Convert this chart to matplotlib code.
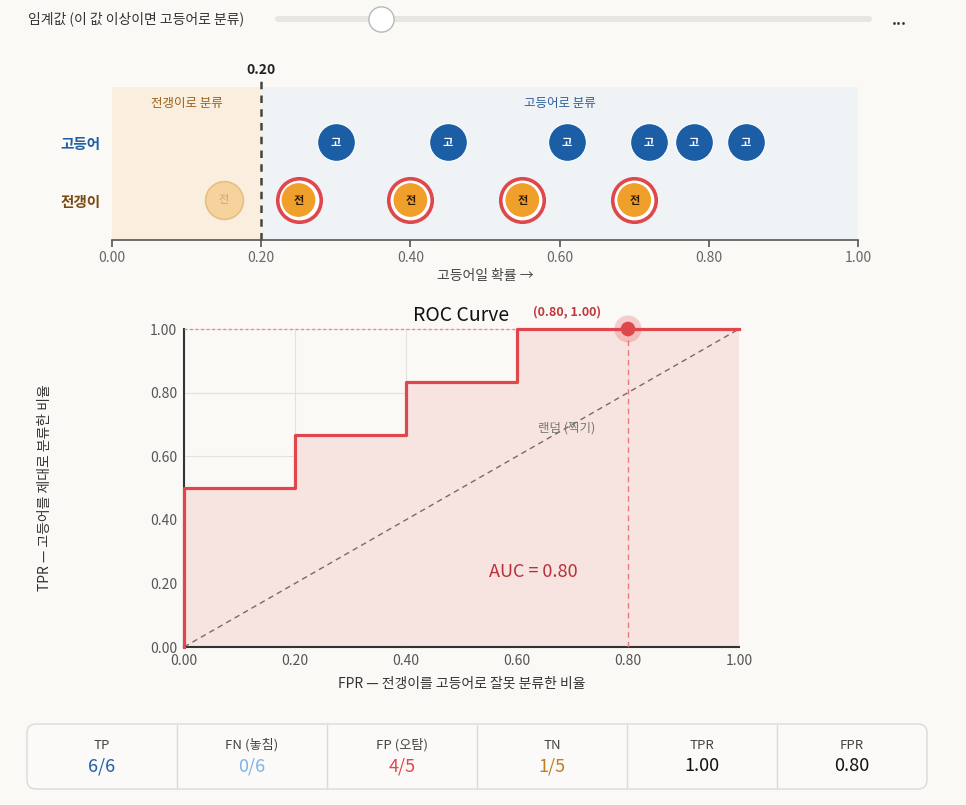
import numpy as np
import matplotlib
matplotlib.use("Agg")
import matplotlib.pyplot as plt
from matplotlib.patches import FancyBboxPatch, Rectangle

plt.rcParams['font.family'] = ['Noto Sans CJK KR', 'DejaVu Sans']

# data
mackerel = [0.30, 0.45, 0.61, 0.72, 0.78, 0.85]   # 고등어 (positive)
jack = [0.15, 0.25, 0.40, 0.55, 0.70]              # 전갱이 (negative)
threshold = 0.20
card_labels = ["TP", "FN (놓침)", "FP (오탐)", "TN", "TPR", "FPR"]
card_values = ["6/6", "0/6", "4/5", "1/5", "1.00", "0.80"]
card_colors = ["#1f5fa3", "#7fb3e8", "#e0474c", "#c17d1e", "#111111", "#111111"]

# ROC from scores
scores = np.array(mackerel + jack)
labels = np.array([1] * len(mackerel) + [0] * len(jack))
order = np.argsort(-scores)
tpr = [0.0]
fpr = [0.0]
tp = fp = 0
for i in order:
    if labels[i] == 1:
        tp += 1
    else:
        fp += 1
    tpr.append(tp / len(mackerel))
    fpr.append(fp / len(jack))
auc = np.trapezoid(tpr, fpr)
cur_tpr = np.mean(np.array(mackerel) >= threshold)
cur_fpr = np.mean(np.array(jack) >= threshold)

W, H = 966, 805
BG = "#faf9f6"
RED = "#e0474c"


def rect(l, t, r, b):
    return [l / W, 1 - b / H, (r - l) / W, (b - t) / H]


fig = plt.figure(figsize=(W / 100, H / 100), dpi=100, facecolor=BG)

# overlay in pixel coords
ov = fig.add_axes([0, 0, 1, 1])
ov.set_xlim(0, W)
ov.set_ylim(H, 0)
ov.axis("off")
ov.patch.set_alpha(0)

ov.text(28, 19, "임계값 (이 값 이상이면 고등어로 분류)", fontsize=10, color="#333333",
        ha="left", va="center")
ov.add_patch(FancyBboxPatch((275, 16), 597, 6, boxstyle="round,pad=0,rounding_size=3",
                            fc="#e8e6e1", ec="none"))
ov.scatter([381], [19], s=330, c="white", edgecolors="#b8b8b8", linewidths=1, zorder=3)
ov.text(899, 20, "...", fontsize=11, color="#333333", ha="center", va="center",
        fontweight="bold")

# metric cards
ov.add_patch(FancyBboxPatch((27, 724), 900, 65, boxstyle="round,pad=0,rounding_size=9",
                            fc="#fbfaf8", ec="#dcdad6", lw=1))
cw = 900 / 6
for k in range(6):
    cx = 27 + cw * (k + 0.5)
    if k > 0:
        ov.plot([27 + cw * k] * 2, [725, 788], color="#dcdad6", lw=1)
    ov.text(cx, 745, card_labels[k], fontsize=9.5, color="#444444", ha="center", va="center")
    ov.text(cx, 766, card_values[k], fontsize=13, color=card_colors[k], ha="center",
            va="center", fontweight="medium")

# strip plot
ax1 = fig.add_axes(rect(112, 87, 858, 240))
ax1.set_xlim(0, 1)
ax1.set_ylim(-0.69, 1.95)
ax1.patch.set_alpha(0)
ax1.add_patch(Rectangle((0, -0.69), threshold, 2.64, fc="#faefdf", ec="none", zorder=0))
ax1.add_patch(Rectangle((threshold, -0.69), 1 - threshold, 2.64, fc="#eff3f6", ec="none", zorder=0))
ax1.plot([threshold, threshold], [-0.69, 2.05], ls=(0, (3, 2.5)), color="#444444", lw=1.8,
         clip_on=False, zorder=2)
ax1.text(threshold, 2.25, f"{threshold:.2f}", fontsize=10, fontweight="bold", color="#222222",
         ha="center", va="center", clip_on=False)
ax1.text(threshold / 2, 1.67, "전갱이로 분류", fontsize=9, color="#9a5f16", ha="center", va="center")
ax1.text((1 + threshold) / 2, 1.67, "고등어로 분류", fontsize=9, color="#2f5f9a", ha="center", va="center")

ax1.scatter(mackerel, [1] * len(mackerel), s=740, c="#1b5ea6", edgecolors="white",
            linewidths=0.8, zorder=3)
for x in mackerel:
    ax1.text(x, 1, "고", fontsize=8, color="white", fontweight="bold", ha="center", va="center", zorder=4)

for x in jack:
    if x >= threshold:
        ax1.scatter([x], [0], s=980, c="white", edgecolors=RED, linewidths=2.6, zorder=3)
        ax1.scatter([x], [0], s=590, c="#ef9f2a", edgecolors="none", zorder=4)
        ax1.text(x, 0, "전", fontsize=8, color="#2a1a05", fontweight="bold", ha="center",
                 va="center", zorder=5)
    else:
        ax1.scatter([x], [0], s=740, c="#f6d39c", edgecolors="#e6bf82", linewidths=1.2, zorder=3)
        ax1.text(x, 0, "전", fontsize=8, color="#c9a470", ha="center", va="center", zorder=4)

for s in ["top", "right", "left"]:
    ax1.spines[s].set_visible(False)
ax1.spines["bottom"].set_color("#555555")
ax1.spines["bottom"].set_linewidth(1.2)
ax1.set_xticks(np.arange(0, 1.01, 0.2))
ax1.set_xticklabels([f"{v:.2f}" for v in np.arange(0, 1.01, 0.2)])
ax1.tick_params(axis="x", colors="#555555", labelcolor="#666666", labelsize=10, length=5,
                width=1.2, pad=3)
ax1.set_yticks([0, 1])
ax1.set_yticklabels(["전갱이", "고등어"], fontsize=10.5, fontweight="bold")
ax1.get_yticklabels()[0].set_color("#7a4a12")
ax1.get_yticklabels()[1].set_color("#1f5fa3")
ax1.tick_params(axis="y", length=0, pad=8)
ax1.set_xlabel("고등어일 확률 →", fontsize=10, color="#444444", labelpad=3)

# ROC curve
ax2 = fig.add_axes(rect(184, 329, 739, 647))
ax2.set_xlim(0, 1)
ax2.set_ylim(0, 1)
ax2.patch.set_alpha(0)
ax2.grid(True, color="#e6e0da", lw=0.8)
ax2.set_axisbelow(True)
ax2.fill_between(fpr, tpr, step="post", color="#f7e2de", alpha=0.9, zorder=1, lw=0)
ax2.plot([0, 1], [0, 1], ls=(0, (4, 3)), color="#7a6a66", lw=1, zorder=2)
ax2.step(fpr, tpr, where="post", color=RED, lw=2.3, zorder=4, clip_on=False)
ax2.plot([0, cur_fpr], [cur_tpr, cur_tpr], ls=(0, (2, 2)), color="#e98a8c", lw=1, zorder=3,
         clip_on=False)
ax2.plot([cur_fpr, cur_fpr], [0, cur_tpr], ls=(0, (4, 3)), color="#e8797c", lw=1, zorder=3)
ax2.scatter([cur_fpr], [cur_tpr], s=380, c=RED, alpha=0.25, edgecolors="none", zorder=5, clip_on=False)
ax2.scatter([cur_fpr], [cur_tpr], s=110, c=RED, edgecolors="none", zorder=6, clip_on=False)
ax2.text(cur_fpr - 0.11, cur_tpr + 0.055, f"({cur_fpr:.2f}, {cur_tpr:.2f})", fontsize=9,
         fontweight="bold", color="#c0373d", ha="center", va="center")
ax2.text(0.69, 0.69, "랜덤 (찍기)", fontsize=9, color="#777777", ha="center", va="center", zorder=3)
ax2.text(0.63, 0.236, f"AUC = {auc:.2f}", fontsize=13, color="#b8303a", ha="center", va="center",
         zorder=6)
ax2.set_title("ROC Curve", fontsize=14, color="#111111", pad=6)

ax2.spines["top"].set_visible(False)
ax2.spines["right"].set_visible(False)
ax2.spines["left"].set_color("#333333")
ax2.spines["bottom"].set_color("#333333")
ax2.spines["left"].set_linewidth(1.5)
ax2.spines["bottom"].set_linewidth(1.5)
ticks = np.arange(0, 1.01, 0.2)
ax2.set_xticks(ticks)
ax2.set_yticks(ticks)
ax2.set_xticklabels([f"{v:.2f}" for v in ticks])
ax2.set_yticklabels([f"{v:.2f}" for v in ticks])
ax2.tick_params(length=0, labelsize=10, labelcolor="#555555", pad=5)
ax2.set_xlabel("FPR — 전갱이를 고등어로 잘못 분류한 비율", fontsize=10, color="#333333", labelpad=6)
ax2.set_ylabel("TPR — 고등어를 제대로 분류한 비율", fontsize=10, color="#333333")
ax2.yaxis.set_label_coords(-0.237, 0.5)

fig.savefig("out.png", dpi=100, facecolor=BG)
